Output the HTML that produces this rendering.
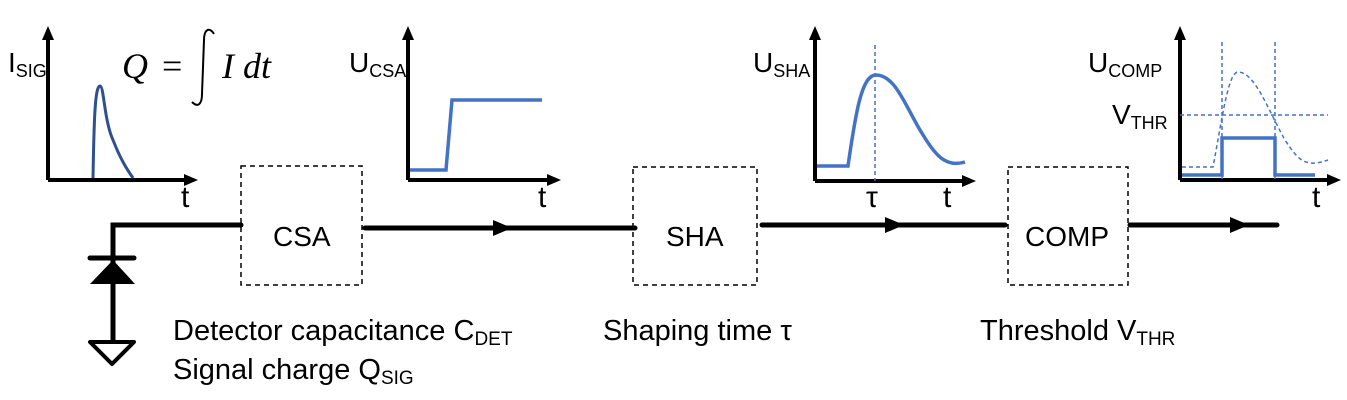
<!DOCTYPE html>
<html><head><meta charset="utf-8"><style>
html,body{margin:0;padding:0;background:#fff;}
svg{display:block;}
text{font-family:"Liberation Sans",sans-serif;fill:#000;}
</style></head><body>
<svg width="1347" height="400" viewBox="0 0 1347 400" xmlns="http://www.w3.org/2000/svg">
<g stroke="#000" stroke-width="4" fill="none">
<path d="M48,180 V38 M48,180 H186"/>
<path d="M408,180 V38 M408,180 H549"/>
<path d="M815,181 V38 M815,181 H964"/>
<path d="M1180,180 V38 M1180,180 H1329"/>
</g>
<g fill="#000">
<path d="M42,40 L48,26 L54,40 Z"/><path d="M184,174 L198,180 L184,186 Z"/>
<path d="M402,40 L408,26 L414,40 Z"/><path d="M547,174 L561,180 L547,186 Z"/>
<path d="M809,40 L815,26 L821,40 Z"/><path d="M962,175 L976,181 L962,187 Z"/>
<path d="M1174,40 L1180,26 L1186,40 Z"/><path d="M1327,174 L1341,180 L1327,186 Z"/>
</g>
<path d="M93,178 C94,120 95,86 100,86 C104,86 104,120 113,140 C120,158 126,168 133,178" stroke="#2f4f8f" stroke-width="3" fill="none"/>
<path d="M410,170 H446 L452,100 H542" stroke="#4472c4" stroke-width="3.5" fill="none"/>
<path d="M817,166 H848 C856,110 862,75 876,75 C895,75 905,105 920,130 C935,155 945,168 965,162" stroke="#4472c4" stroke-width="3.5" fill="none"/>
<path d="M875,45 V181" stroke="#4472c4" stroke-width="1.5" stroke-dasharray="4,3" fill="none"/>
<path d="M1182,175 H1222 V138 H1275 V175 H1315" stroke="#4472c4" stroke-width="3.5" fill="none"/>
<g stroke="#4472c4" stroke-width="1.5" stroke-dasharray="4,3" fill="none">
<path d="M1182,167 H1213 C1222,120 1228,72 1238,72 C1255,72 1268,110 1285,140 C1298,160 1305,168 1328,160"/>
<path d="M1180,115 H1328"/><path d="M1222,42 V180"/><path d="M1275,42 V180"/>
</g>
<g stroke="#000" stroke-width="1.5" stroke-dasharray="5,4" fill="none">
<rect x="241" y="166" width="121" height="119"/>
<rect x="633" y="167" width="124" height="118"/>
<rect x="1008" y="167" width="120" height="118"/>
</g>
<g stroke="#000" stroke-width="5" fill="none" stroke-linecap="round">
<path d="M241,225 H113 V340"/>
<path d="M365,228 H635"/>
<path d="M762,225 H1005"/>
<path d="M1130,225 H1277"/>
<path d="M90,258 H134"/>
</g>
<g fill="#000">
<path d="M493,220 L512,228 L493,236 Z"/>
<path d="M885,217 L904,225 L885,233 Z"/>
<path d="M1230,217 L1249,225 L1230,233 Z"/>
<path d="M113,260 L135,284 L90,284 Z"/>
</g>
<path d="M90,342 H134 L112,364 Z" stroke="#000" stroke-width="4" fill="#fff" stroke-linejoin="round"/>
<g font-size="28">
<text x="8" y="72">I<tspan font-size="18" dy="5">SIG</tspan></text>
<text x="349" y="72">U<tspan font-size="18" dy="5">CSA</tspan></text>
<text x="753" y="72">U<tspan font-size="18" dy="5">SHA</tspan></text>
<text x="1088" y="72">U<tspan font-size="18" dy="5">COMP</tspan></text>
<text x="1112" y="124">V<tspan font-size="18" dy="5">THR</tspan></text>
<text x="181" y="207" font-size="30">t</text><text x="538" y="207" font-size="30">t</text>
<text x="866" y="207" font-size="30">τ</text><text x="943" y="207" font-size="30">t</text><text x="1312" y="207" font-size="30">t</text>
<text x="273" y="246">CSA</text>
<text x="666" y="246">SHA</text>
<text x="1025" y="246">COMP</text>
</g>
<g font-size="29">
<text x="173" y="340">Detector capacitance C<tspan font-size="19" dy="5">DET</tspan></text>
<text x="173" y="379">Signal charge Q<tspan font-size="19" dy="5">SIG</tspan></text>
<text x="603" y="340">Shaping time τ</text>
<text x="980" y="340">Threshold V<tspan font-size="19" dy="5">THR</tspan></text>
</g>
<text x="122" y="78" style="font-family:'Liberation Serif',serif;font-style:italic;font-size:36px">Q</text>
<text x="162" y="78" style="font-family:'Liberation Serif',serif;font-size:36px">=</text>
<text x="222" y="78" style="font-family:'Liberation Serif',serif;font-style:italic;font-size:36px">I dt</text>
<path d="M214,34 C209,26 204,30 204,40 L202,94 C202,104 198,108 192,102" stroke="#000" stroke-width="2" fill="none"/>
</svg>
</body></html>
